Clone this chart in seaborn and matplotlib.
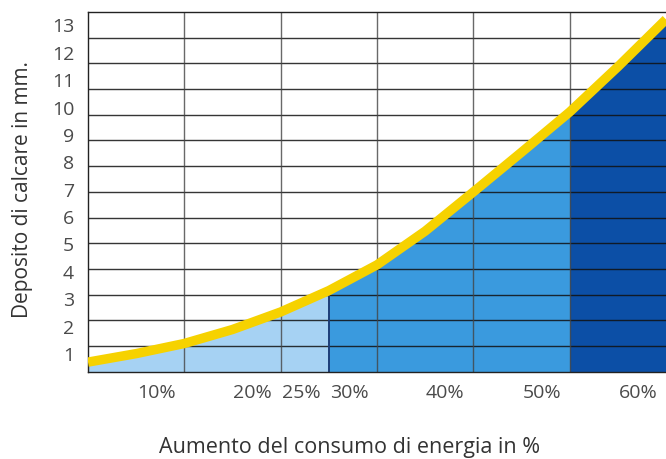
import numpy as np
import pandas as pd
import matplotlib
matplotlib.use("Agg")
import matplotlib.pyplot as plt
import matplotlib.transforms as mtransforms
import seaborn as sns

# curve: energy increase (%) -> lime deposit (mm)
aumento = [0, 5, 10, 15, 20, 25, 30, 35, 40, 45, 50, 55, 60]
deposito = [0.67, 0.98, 1.35, 1.86, 2.50, 3.28, 4.22, 5.45, 6.88, 8.33, 9.80, 11.45, 13.18]

# shaded bands under the curve
fasce = [(0, 25), (25, 50), (50, 60)]
colori_fasce = ["#a6d2f3", "#3a9ade", "#0c4fa6"]

x_ticks = [10, 20, 25, 30, 40, 50, 60]
x_labels = ["10%", "20%", "25%", "30%", "40%", "50%", "60%"]
x_grid = [10, 20, 30, 40, 50]
y_ticks = list(range(1, 14))

df = pd.DataFrame({"aumento": aumento, "deposito": deposito})

sns.set_style("white")
plt.rcParams["font.family"] = ["Open Sans", "DejaVu Sans"]

fig = plt.figure(figsize=(6.66, 4.6), dpi=100)
ax = fig.add_axes([88 / 666, 1 - 372.7 / 460, 578 / 666, 359.7 / 460])

y_lo, y_hi = 0.32, 13.45
ax.set_xlim(0, 60)
ax.set_ylim(y_lo, y_hi)

# coloured areas under the curve
for (a, b), col in zip(fasce, colori_fasce):
    sub = df[(df["aumento"] >= a) & (df["aumento"] <= b)]
    ax.fill_between(sub["aumento"], 0, sub["deposito"], color=col, lw=0, zorder=1)

# grid of the original drawing: 14 rows, vertical lines every 10%
for yg in np.linspace(y_lo, y_hi, 15)[1:-1]:
    ax.axhline(yg, color="#111111", lw=1.0, alpha=0.85, zorder=2)
for xg in x_grid:
    ax.axvline(xg, color="#444444", lw=1.0, alpha=0.8, zorder=2)

# dark edge where the middle band starts
d25 = df.loc[df["aumento"] == 25, "deposito"].iloc[0]
ax.plot([25, 25], [0, d25], color="#1c3d78", lw=1.4, zorder=2)

sns.lineplot(data=df, x="aumento", y="deposito", ax=ax, color="#f6d200",
             lw=6.8, zorder=4, solid_capstyle="butt", solid_joinstyle="round")

for side in ["left", "top", "bottom"]:
    ax.spines[side].set_color("#222222")
    ax.spines[side].set_linewidth(1.0)
ax.spines["right"].set_visible(False)

ax.set_xticks(x_ticks)
ax.set_xticklabels(x_labels)
ax.set_yticks(y_ticks)
ax.tick_params(axis="both", length=0, labelsize=14, labelcolor="#4a4a4a")
ax.tick_params(axis="x", pad=8)
ax.tick_params(axis="y", pad=10)

# labels in the drawing sit left of their grid line
shift = mtransforms.ScaledTranslation(-0.28, 0, fig.dpi_scale_trans)
for lab in ax.get_xticklabels():
    lab.set_transform(lab.get_transform() + shift)

ax.set_xlabel("Aumento del consumo di energia in %", fontsize=15.5, color="#333333")
ax.xaxis.set_label_coords(0.453, -0.207)
ax.xaxis.label.set_va("center")
ax.set_ylabel("Deposito di calcare in mm.", fontsize=15, color="#333333")
ax.yaxis.set_label_coords(-0.114, 0.51)
ax.yaxis.label.set_va("center")

fig.savefig("out.png", dpi=100)
